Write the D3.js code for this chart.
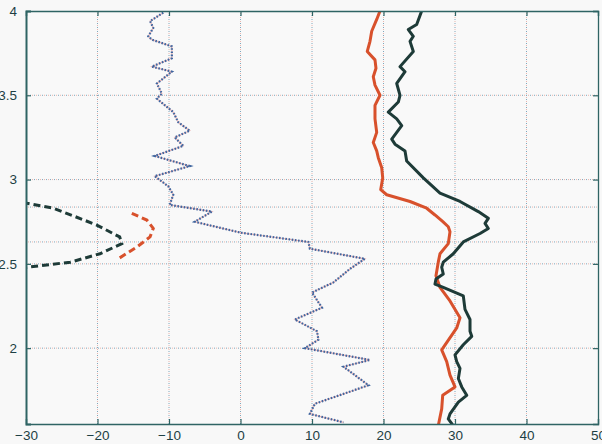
<!DOCTYPE html>
<html>
<head>
<meta charset="utf-8">
<script src="https://cdn.jsdelivr.net/npm/d3@7"></script>
<style>
  html, body { margin: 0; padding: 0; background: #f8f8f8; }
  svg { display: block; }
  text { font-family: "Liberation Sans", Arial, Helvetica, sans-serif; }
</style>
</head>
<body>
<svg id="chart" width="602" height="444"></svg>
<script>
// ---- data ----
const xTicks = [-30, -20, -10, 0, 10, 20, 30, 40, 50];
const yTicks = [2, 2.5, 3, 3.5, 4];
const markerDepths = [2.837, 2.63];

const blueX = [-10.8, -12.65, -12.2, -12.9, -12.4, -9.6, -9.6, -12.4, -9.6, -11.7, -11.0, -11.7, -9.4, -8.7, -7.1, -9.2, -8.0, -12.0, -7.1, -12.0, -10.1, -9.4, -9.9, -4.0, -6.4, 0.0, 9.5, 9.7, 17.4, 15.3, 13.0, 10.0, 11.4, 7.6, 10.7, 10.9, 9.0, 18.1, 14.4, 17.9, 10.4, 9.7, 14.4];
const blueY = [3.99, 3.94, 3.90, 3.85, 3.83, 3.79, 3.72, 3.67, 3.64, 3.57, 3.51, 3.48, 3.40, 3.34, 3.29, 3.25, 3.20, 3.14, 3.08, 3.02, 2.96, 2.91, 2.85, 2.81, 2.75, 2.685, 2.63, 2.59, 2.53, 2.47, 2.39, 2.33, 2.24, 2.17, 2.10, 2.05, 2.00, 1.93, 1.89, 1.78, 1.67, 1.61, 1.56];

const redX = [19.51, 19.05, 18.35, 18.11, 17.73, 18.81, 18.95, 18.57, 18.81, 19.51, 18.81, 18.81, 19.05, 18.57, 19.05, 19.27, 19.75, 19.89, 19.61, 20.45, 23.71, 26.04, 27.2, 28.3, 29.06, 29.30, 29.06, 27.90, 27.66, 27.34, 27.90, 29.30, 30.70, 30.24, 28.14, 28.84, 29.30, 30.00, 28.28, 28.14, 27.66];
const redY = [4.00, 3.95, 3.88, 3.82, 3.76, 3.71, 3.66, 3.61, 3.56, 3.50, 3.44, 3.36, 3.28, 3.22, 3.17, 3.13, 3.07, 3.01, 2.94, 2.91, 2.87, 2.83, 2.79, 2.75, 2.72, 2.69, 2.62, 2.56, 2.51, 2.43, 2.36, 2.28, 2.18, 2.12, 1.99, 1.92, 1.84, 1.77, 1.72, 1.64, 1.54];

const blackX = [25.34, 24.64, 23.47, 24.17, 23.71, 24.17, 22.31, 23.01, 21.85, 22.31, 22.07, 20.67, 21.85, 22.55, 21.15, 21.61, 23.01, 23.24, 25.57, 27.90, 30.70, 33.26, 34.66, 34.20, 34.66, 33.50, 31.16, 29.76, 28.36, 28.14, 28.36, 27.34, 27.20, 28.36, 31.16, 31.40, 32.10, 32.10, 32.34, 31.16, 30.00, 30.24, 30.70, 30.47, 30.94, 31.64, 30.47, 29.30, 29.06, 29.76];
const blackY = [4.00, 3.92, 3.89, 3.85, 3.82, 3.76, 3.67, 3.64, 3.57, 3.50, 3.46, 3.40, 3.36, 3.32, 3.24, 3.21, 3.17, 3.11, 3.01, 2.92, 2.87, 2.81, 2.77, 2.74, 2.71, 2.68, 2.63, 2.56, 2.51, 2.48, 2.44, 2.41, 2.38, 2.36, 2.31, 2.23, 2.17, 2.10, 2.07, 2.02, 1.96, 1.92, 1.88, 1.82, 1.77, 1.72, 1.68, 1.61, 1.58, 1.54];

const blackDashX = [-32, -29.9, -26.2, -23.1, -20.1, -16.9, -16.6, -19.65, -23.8, -29.9, -32];
const blackDashY = [2.87, 2.86, 2.83, 2.78, 2.73, 2.66, 2.62, 2.56, 2.51, 2.48, 2.47];

const redDashX = [-15.2, -13.1, -12.2, -12.65, -14.5, -17.1];
const redDashY = [2.80, 2.76, 2.71, 2.66, 2.60, 2.53];

// ---- layout ----
const svg = d3.select("#chart");
const L = 26, R = 598, T = 11, B = 424;
const x = d3.scaleLinear().domain([-30, 50]).range([L, R]);
const y = d3.scaleLinear().domain([1.55, 4]).range([B, T]);
const axisColor = "#2f6464";

svg.append("rect").attr("x", L).attr("y", T).attr("width", R - L).attr("height", B - T).attr("fill", "#f9f9f9");

svg.append("defs").append("clipPath").attr("id", "clip")
  .append("rect").attr("x", L).attr("y", T).attr("width", R - L).attr("height", B - T);

// grid
const grid = svg.append("g");
function gridLine(x1, y1, x2, y2) {
  grid.append("line").attr("x1", x1).attr("y1", y1).attr("x2", x2).attr("y2", y2)
    .attr("stroke", "#e8b4ac").attr("stroke-width", 1).attr("stroke-dasharray", "1,3").attr("stroke-dashoffset", 2);
  grid.append("line").attr("x1", x1).attr("y1", y1).attr("x2", x2).attr("y2", y2)
    .attr("stroke", "#7fa6bb").attr("stroke-width", 1).attr("stroke-dasharray", "1,3");
}
xTicks.slice(1, -1).forEach(v => gridLine(x(v), T, x(v), B));
yTicks.filter(v => v > 1.55 && v < 4).forEach(v => gridLine(L, y(v), R, y(v)));
markerDepths.forEach(v => gridLine(L, y(v), R, y(v)));

// lines
const plot = svg.append("g").attr("clip-path", "url(#clip)");
const line = d3.line().x(d => x(d[0])).y(d => y(d[1]));
const zip = (a, b) => a.map((v, i) => [v, b[i]]);

plot.append("path").datum(zip(blueX, blueY)).attr("d", line)
  .attr("fill", "none").attr("stroke", "#e7a3a3").attr("stroke-width", 1.2).attr("opacity", 0.8);
plot.append("path").datum(zip(blueX, blueY)).attr("d", line)
  .attr("fill", "none").attr("stroke", "#3e66a0").attr("stroke-width", 2.2).attr("stroke-dasharray", "1.6,1.6");

plot.append("path").datum(zip(redX, redY)).attr("d", line)
  .attr("fill", "none").attr("stroke", "#d8512c").attr("stroke-width", 3).attr("stroke-linejoin", "round");
plot.append("path").datum(zip(blackX, blackY)).attr("d", line)
  .attr("fill", "none").attr("stroke", "#1e3b38").attr("stroke-width", 3).attr("stroke-linejoin", "round");

plot.append("path").datum(zip(blackDashX, blackDashY)).attr("d", line)
  .attr("fill", "none").attr("stroke", "#1e3b38").attr("stroke-width", 3).attr("stroke-dasharray", "7,4");
plot.append("path").datum(zip(redDashX, redDashY)).attr("d", line)
  .attr("fill", "none").attr("stroke", "#d8512c").attr("stroke-width", 3).attr("stroke-dasharray", "7,4");

// axes (MATLAB style box, ticks inward)
const fmt = d3.format("");
const axB = svg.append("g").attr("transform", `translate(0,${B})`)
  .call(d3.axisBottom(x).tickValues(xTicks).tickSize(-5).tickPadding(6).tickFormat(fmt));
const axT = svg.append("g").attr("transform", `translate(0,${T})`)
  .call(d3.axisTop(x).tickValues(xTicks).tickSize(-5).tickFormat(""));
const axL = svg.append("g").attr("transform", `translate(${L},0)`)
  .call(d3.axisLeft(y).tickValues(yTicks).tickSize(-5).tickPadding(9).tickFormat(fmt));
const axR = svg.append("g").attr("transform", `translate(${R},0)`)
  .call(d3.axisRight(y).tickValues(yTicks).tickSize(-5).tickFormat(""));

[axB, axT, axL, axR].forEach(g => {
  g.select(".domain").attr("stroke", axisColor).attr("stroke-width", 1.3);
  g.selectAll(".tick line").attr("stroke", axisColor).attr("stroke-width", 1.2);
  g.selectAll("text").attr("fill", "#1d3f44").attr("font-size", 13.5);
});
axL.select(".domain").attr("stroke-width", 2);
</script>
</body>
</html>
